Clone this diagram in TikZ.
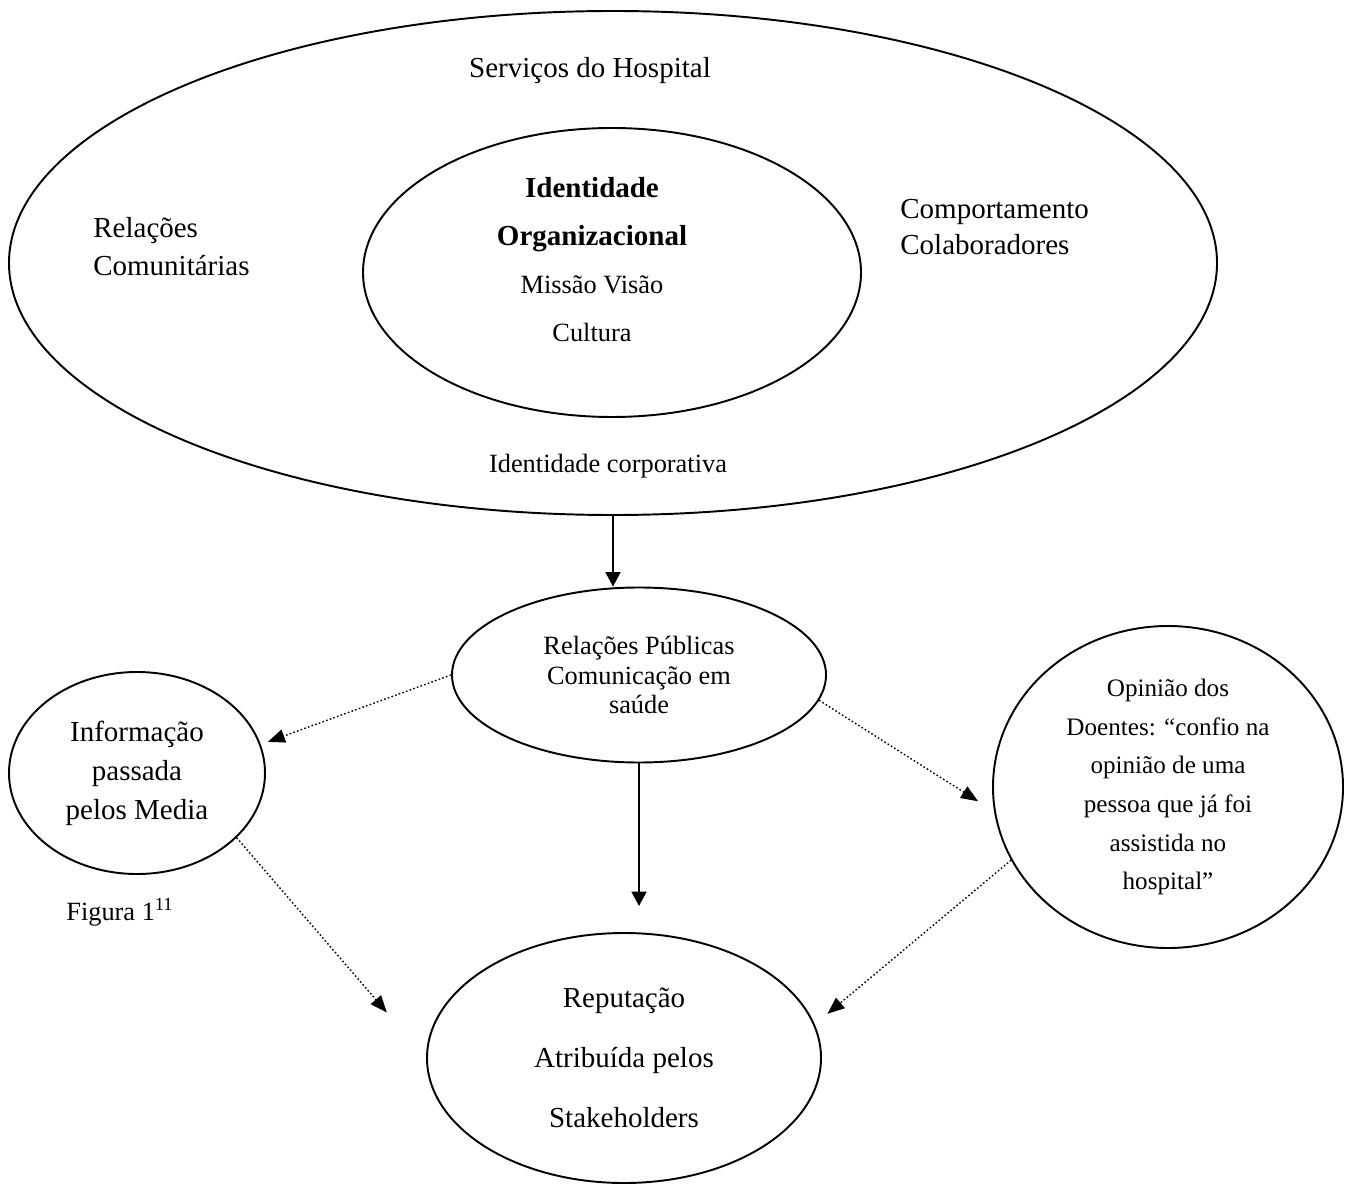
\documentclass[tikz,border=0pt]{standalone}
\usepackage{fontspec}
\setmainfont{Liberation Serif}
\usetikzlibrary{shapes.geometric,arrows.meta}

\begin{document}
\begin{tikzpicture}[
	bubble/.style={draw,ellipse,line width=1.1pt,inner sep=0pt,align=center},
	flow/.style={line width=1.1pt,-{Triangle[length=0.29cm,width=0.3cm]}},
	hint/.style={line width=0.8pt,dash pattern=on 0.9pt off 1.3pt,-{Triangle[length=0.34cm,width=0.27cm]}},
	big/.style={font=\fontsize{16.5}{22.2}\selectfont},
	small/.style={font=\fontsize{15}{17}\selectfont}]
	\useasboundingbox (0,0) rectangle (27,-23.68);

	% identidade corporativa
	\node[bubble,minimum width=24.16cm,minimum height=10.08cm] (outer) at (12.26,-5.26) {};
	\node[bubble,minimum width=9.96cm,minimum height=5.78cm] (inner) at (12.24,-5.45) {};
	\node[big,anchor=base,inner sep=0pt] (servicos) at (11.8,-1.56) {Serviços do Hospital};
	\node[font=\fontsize{16.5}{21.6}\selectfont,align=left,anchor=north west,inner sep=0pt] (relacoes) at (1.86,-4.34) {Relações\\Comunitárias};
	\node[font=\fontsize{16.5}{20.5}\selectfont,align=left,anchor=north west,inner sep=0pt] (comport) at (18.0,-3.98) {Comportamento\\Colaboradores};
	\node[font=\fontsize{15}{27.3}\selectfont,align=center,inner sep=0pt] (orgtxt) at (11.84,-5.2)
		{{\fontsize{16.5}{27.3}\selectfont\bfseries Identidade}\\{\fontsize{16.5}{27.3}\selectfont\bfseries Organizacional}\\Missão Visão\\Cultura};
	\node[small,anchor=base,inner sep=0pt] (corp) at (12.16,-9.44) {Identidade corporativa};

	% comunicacao
	\node[bubble,small,minimum width=7.48cm,minimum height=3.5cm] (rp) at (12.78,-13.5) {Relações Públicas\\Comunicação em\\saúde};
	\node[bubble,big,minimum width=5.12cm,minimum height=4.04cm] (info) at (2.74,-15.46) {Informação\\passada\\pelos Media};
	\node[bubble,font=\fontsize{14.3}{22}\selectfont,minimum width=7cm,minimum height=6.44cm] (opin) at (23.36,-15.74)
		{Opinião dos\\Doentes: “confio na\\opinião de uma\\pessoa que já foi\\assistida no\\hospital”};
	\node[bubble,font=\fontsize{16.5}{34.1}\selectfont,minimum width=7.88cm,minimum height=5cm] (rep) at (12.48,-21.16)
		{Reputação\\Atribuída pelos\\Stakeholders};
	\node[small,anchor=base west,inner sep=0pt] (figura) at (1.32,-18.4) {Figura 1\textsuperscript{11}};

	\draw[flow] (outer.south) -- (outer.south |- rp.north);
	\draw[flow,shorten >=0.52cm] (rp.south) -- (rp.south |- rep.north);

	\draw[hint,shorten >=0.15cm] (rp.west) -- (info.13);
	\draw[hint,shorten >=0.38cm] (rp.-8) -- (opin.188);
	\draw[hint,shorten >=1.2cm] (info.-33) -- (rep.west);
	\draw[hint,shorten >=0.33cm] (opin.205) -- (rep.10);
\end{tikzpicture}
\end{document}
